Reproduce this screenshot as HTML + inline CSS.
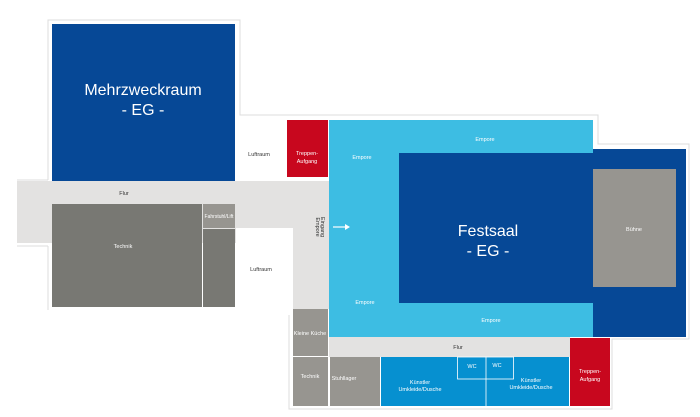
<!DOCTYPE html>
<html><head><meta charset="utf-8"><style>
html,body{margin:0;padding:0;background:#fff;width:700px;height:417px;overflow:hidden}
svg text{font-family:"Liberation Sans",sans-serif;fill:#fff}
</style></head><body>
<svg width="700" height="417" viewBox="0 0 700 417" xmlns="http://www.w3.org/2000/svg">
<g fill="none" stroke="#dcdcdc" stroke-width="1">
<polyline points="48,180 48,20 240,20 240,115 598,115 598,144 689,144 689,339 612,339 612,409 289,409 289,315"/>
<line x1="17" y1="180" x2="48" y2="180"/>
<line x1="17" y1="246" x2="48" y2="246"/>
<line x1="48" y1="246" x2="48" y2="310"/>
<line x1="236" y1="228" x2="293" y2="228"/>
<line x1="293" y1="228" x2="293" y2="310"/>
</g>
<rect x="17" y="181" width="312" height="62" fill="#e3e2e1"/>
<rect x="293" y="181" width="36" height="128" fill="#e3e2e1"/>
<rect x="236" y="228" width="57" height="82" fill="#fff"/>
<rect x="329" y="337" width="241" height="20" fill="#e3e2e1"/>
<rect x="52" y="24" width="183" height="157" fill="#064896"/>
<text x="143" y="95" font-size="16" text-anchor="middle">Mehrzweckraum</text>
<text x="143" y="115" font-size="16" text-anchor="middle">- EG -</text>
<rect x="52" y="204" width="150" height="103" fill="#787873"/>
<rect x="203" y="204" width="32" height="24" fill="#979590"/>
<rect x="203" y="229" width="32" height="78" fill="#787873"/>
<text x="123" y="248" font-size="5.5" text-anchor="middle">Technik</text>
<text x="219" y="218" font-size="5" text-anchor="middle">Fahrstuhl/Lift</text>
<text x="124" y="195" font-size="5.5" text-anchor="middle" style="fill:#333">Flur</text>
<text x="259" y="156" font-size="5.5" text-anchor="middle" style="fill:#333">Luftraum</text>
<text x="261" y="271" font-size="5.5" text-anchor="middle" style="fill:#333">Luftraum</text>
<rect x="287" y="120" width="41" height="57" fill="#c8071e"/>
<text x="307" y="155" font-size="5.5" text-anchor="middle">Treppen-</text>
<text x="307" y="163" font-size="5.5" text-anchor="middle">Aufgang</text>
<text transform="translate(321,227) rotate(90)" font-size="5.5" text-anchor="middle" style="fill:#333">Eingang</text>
<text transform="translate(316,227) rotate(90)" font-size="5.5" text-anchor="middle" style="fill:#333">Empore</text>
<rect x="329" y="120" width="264" height="217" fill="#3dbde3"/>
<rect x="399" y="153" width="194" height="150" fill="#064896"/>
<rect x="593" y="149" width="93" height="188" fill="#064896"/>
<rect x="593" y="169" width="83" height="118" fill="#979590"/>
<text x="634" y="231" font-size="5.5" text-anchor="middle">Bühne</text>
<text x="488" y="236" font-size="16" text-anchor="middle">Festsaal</text>
<text x="488" y="256" font-size="16" text-anchor="middle">- EG -</text>
<text x="485" y="141" font-size="5.5" text-anchor="middle">Empore</text>
<text x="362" y="159" font-size="5.5" text-anchor="middle">Empore</text>
<text x="365" y="304" font-size="5.5" text-anchor="middle">Empore</text>
<text x="491" y="322" font-size="5.5" text-anchor="middle">Empore</text>
<line x1="333" y1="227" x2="345" y2="227" stroke="#fff" stroke-width="1.2"/>
<polygon points="345,224 350,227 345,230" fill="#fff"/>
<rect x="293" y="309" width="35" height="47" fill="#979590"/>
<text x="310" y="335" font-size="5.5" text-anchor="middle">Kleine Küche</text>
<rect x="293" y="357" width="35" height="49" fill="#979590"/>
<text x="310" y="378" font-size="5.5" text-anchor="middle">Technik</text>
<rect x="330" y="357" width="50" height="49" fill="#979590"/>
<text x="344" y="380" font-size="5.5" text-anchor="middle">Stuhllager</text>
<text x="458" y="349" font-size="5.5" text-anchor="middle" style="fill:#333">Flur</text>
<rect x="381" y="357" width="188" height="49" fill="#0690d0"/>
<line x1="486" y1="357" x2="486" y2="406" stroke="#fff" stroke-width="0.8"/>
<rect x="457.5" y="357" width="56" height="22" fill="none" stroke="#fff" stroke-width="0.8"/>
<text x="472" y="368" font-size="5.5" text-anchor="middle">WC</text>
<text x="497" y="367" font-size="5.5" text-anchor="middle">WC</text>
<text x="420" y="384" font-size="5.5" text-anchor="middle">Künstler</text>
<text x="420" y="391" font-size="5.5" text-anchor="middle">Umkleide/Dusche</text>
<text x="531" y="382" font-size="5.5" text-anchor="middle">Künstler</text>
<text x="531" y="389" font-size="5.5" text-anchor="middle">Umkleide/Dusche</text>
<rect x="570" y="338" width="40" height="68" fill="#c8071e"/>
<text x="590" y="373" font-size="5.5" text-anchor="middle">Treppen-</text>
<text x="590" y="381" font-size="5.5" text-anchor="middle">Aufgang</text>
</svg>
</body></html>
